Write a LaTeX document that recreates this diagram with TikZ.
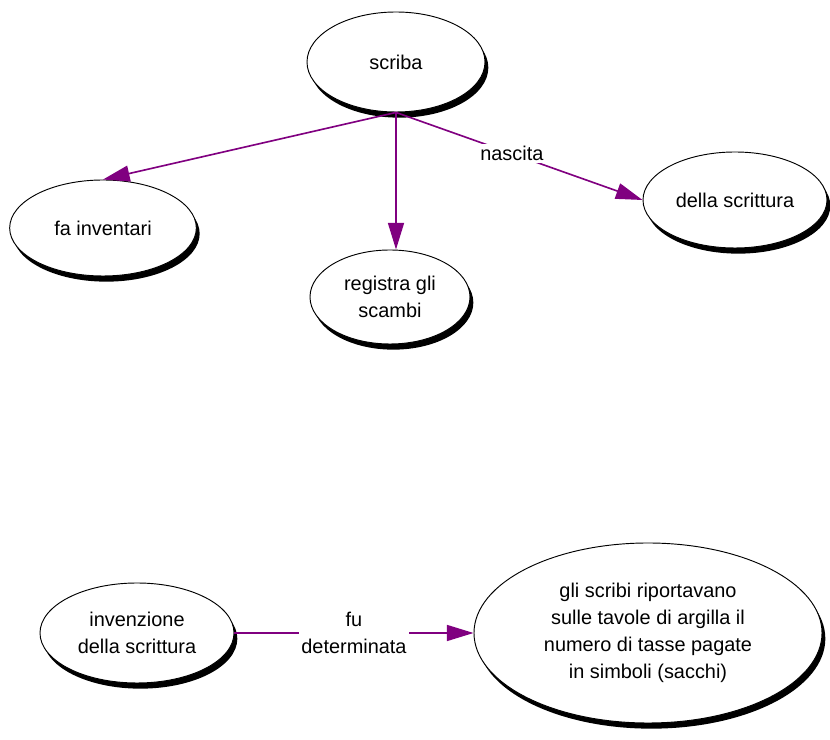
\documentclass[tikz,border=0pt]{standalone}
\usepackage{fontspec}
\setmainfont{Liberation Sans}
\usepackage{tikz}
\usetikzlibrary{arrows.meta, positioning, shapes.geometric, shadows}
\definecolor{linkpurple}{HTML}{800080}

\begin{document}
\begin{tikzpicture}[
    concept/.style={draw, ellipse, fill=white, line width=0.8pt, inner sep=0pt, align=center,
        font=\fontsize{17}{23}\selectfont,
        drop shadow={shadow xshift=0.1cm, shadow yshift=-0.17cm, fill=black, opacity=1}},
    arrow/.style={-{Triangle[length=0.8cm, width=0.48cm]}, line width=1.4pt, linkpurple},
    linkword/.style={fill=white, text=black, inner sep=2pt, align=center, font=\fontsize{17}{23}\selectfont},
]
\useasboundingbox (0,0) rectangle (24.9,22.2);

% Top map
\node[concept, minimum width=5.34cm, minimum height=3.0cm] (scriba) at (11.88, 20.34) {scriba};
\node[concept, minimum width=5.6cm, minimum height=2.88cm] (fainv) at (3.09, 15.36) {fa inventari};
\node[concept, minimum width=4.8cm, minimum height=2.82cm] (registra) at (11.7, 13.29) {registra gli\\scambi};
\node[concept, minimum width=5.52cm, minimum height=2.88cm] (della) at (22.05, 16.2) {della scrittura};

% Bottom map
\node[concept, minimum width=5.82cm, minimum height=3.0cm] (invenzione) at (4.11, 3.21) {invenzione\\della scrittura};
\node[concept, minimum width=10.44cm, minimum height=5.4cm] (scribi) at (19.44, 3.21) {gli scribi riportavano\\sulle tavole di argilla il\\numero di tasse pagate\\in simboli (sacchi)};

% Links
\draw[arrow] (scriba.south) -- (fainv.north);
\draw[arrow] (scriba.south) -- (scriba.south |- registra.north);
\draw[arrow] (scriba.south) -- node[linkword, pos=0.47] (nascita) {nascita} (della.west);
\draw[arrow] (invenzione.east) -- node[linkword] (fudet) {fu\\determinata} (scribi.west);

\end{tikzpicture}
\end{document}
